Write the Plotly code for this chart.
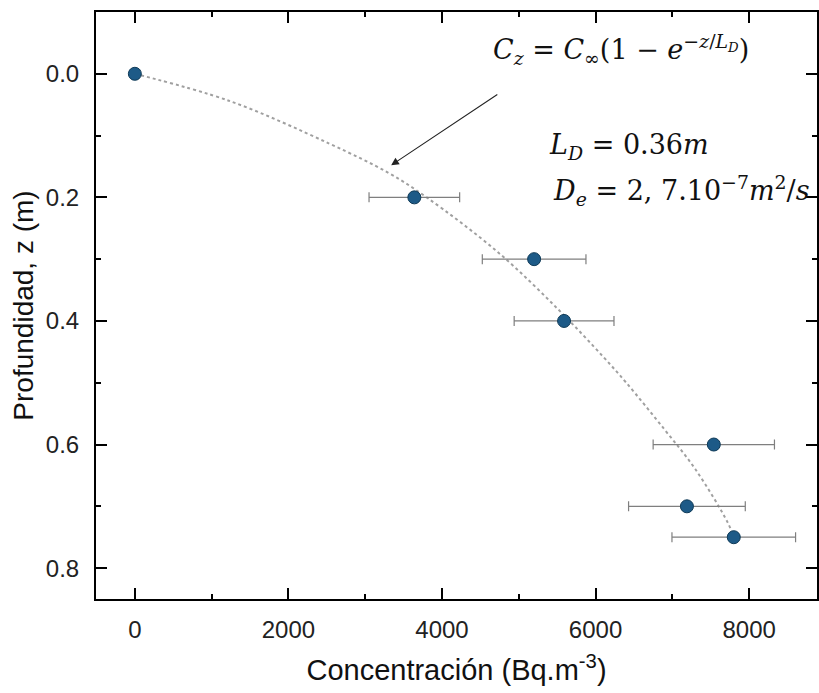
import plotly.graph_objects as go

# Measured data
depth_m = [0.0, 0.2, 0.3, 0.4, 0.6, 0.7, 0.75]
concentration = [0, 3640, 5200, 5590, 7540, 7190, 7800]
conc_error = [0, 590, 675, 650, 790, 760, 805]

# Fitted curve
fit_depth = [0.0, 0.044, 0.113, 0.161, 0.2, 0.29, 0.382, 0.458, 0.5, 0.576, 0.64, 0.726, 0.75]
fit_conc = [0, 1234, 2532, 3312, 3800, 4740, 5519, 6100, 6400, 6900, 7300, 7720, 7800]

x_ticks = [0, 2000, 4000, 6000, 8000]
y_ticks = [0.0, 0.2, 0.4, 0.6, 0.8]

fig = go.Figure()
fig.add_trace(go.Scatter(
    x=fit_conc, y=fit_depth, mode="lines",
    line=dict(color="#a0a0a0", width=2, dash="dot", shape="spline"),
    hoverinfo="skip", showlegend=False))
fig.add_trace(go.Scatter(
    x=concentration, y=depth_m, mode="markers",
    marker=dict(size=13, color="#1d5a87", line=dict(color="#0f3a57", width=1)),
    error_x=dict(type="data", array=conc_error, color="#7f7f7f", thickness=1.2, width=5),
    showlegend=False))

serif = "DejaVu Serif, Liberation Serif, serif"
fig.add_annotation(x=6325, y=-0.04, xref="x", yref="y", showarrow=False,
                   text="<i>C<sub>z</sub></i> = <i>C</i><sub>∞</sub>(1 − <i>e</i><sup>−<i>z</i>/<i>L<sub>D</sub></i></sup>)",
                   font=dict(family=serif, size=27, color="#111"))
fig.add_annotation(x=5364, y=0.118, xref="x", yref="y", showarrow=False, xanchor="left",
                   text="<i>L<sub>D</sub></i> = 0.36<i>m</i>",
                   font=dict(family=serif, size=27, color="#111"))
fig.add_annotation(x=5416, y=0.189, xref="x", yref="y", showarrow=False, xanchor="left",
                   text="<i>D<sub>e</sub></i> = 2, 7.10<sup>−7</sup><i>m</i><sup>2</sup>/<i>s</i>",
                   font=dict(family=serif, size=27, color="#111"))
fig.add_annotation(x=3338, y=0.148, ax=4740, ay=0.032, xref="x", yref="y",
                   axref="x", ayref="y", text="", showarrow=True,
                   arrowhead=2, arrowsize=1.4, arrowwidth=1.1, arrowcolor="#222")

sans = "Liberation Sans, Arial, sans-serif"
axis_common = dict(showline=True, linecolor="black", linewidth=2, mirror="ticks",
                   ticks="inside", ticklen=11, tickwidth=2, tickcolor="black",
                   showgrid=False, zeroline=False,
                   tickfont=dict(family=sans, size=24, color="#222"))

fig.update_xaxes(**axis_common, range=[-506, 8884], tickvals=x_ticks,
                 minor=dict(ticks="inside", ticklen=5, tickwidth=2, tickcolor="black", dtick=1000, tick0=0),
                 ticklabelstandoff=8,
                 title=dict(text="Concentración (Bq.m<sup>-3</sup>)", standoff=18,
                            font=dict(family=sans, size=29, color="#111")))
fig.update_yaxes(**axis_common, range=[0.85, -0.1], tickvals=y_ticks, tickformat=".1f",
                 minor=dict(ticks="inside", ticklen=5, tickwidth=2, tickcolor="black", dtick=0.1, tick0=0),
                 ticklabelstandoff=10,
                 title=dict(text="Profundidad, z (m)", standoff=4,
                            font=dict(family=sans, size=28, color="#111")))

fig.update_layout(width=819, height=693, margin=dict(l=96, r=0, t=12, b=94),
                  plot_bgcolor="white", paper_bgcolor="white")

fig.write_html("out.html")
